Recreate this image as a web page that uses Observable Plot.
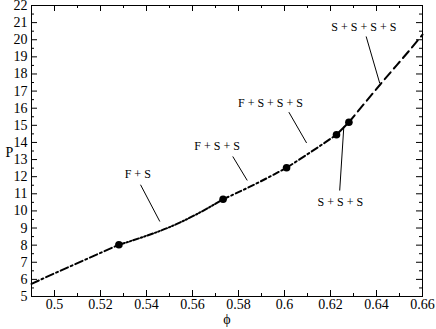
<!DOCTYPE html>
<html>
<head>
<meta charset="utf-8">
<script src="https://cdn.jsdelivr.net/npm/d3@7"></script>
<script src="https://cdn.jsdelivr.net/npm/@observablehq/plot@0.6"></script>
<style>
  html, body { margin: 0; padding: 0; background: #fff; }
  #chart svg, #chart svg text { font-family: "Liberation Serif", "Times New Roman", serif !important; }
</style>
</head>
<body>
<div id="chart"></div>
<script>
// ---- data ----
const phi = [0.49, 0.50, 0.51, 0.52, 0.528, 0.539, 0.550, 0.562, 0.5733, 0.5866, 0.6009, 0.612, 0.6226, 0.628, 0.6417, 0.6591, 0.66];
const P   = [5.74, 6.35, 6.95, 7.55, 8.02, 8.50, 9.05, 9.82, 10.68, 11.52, 12.52, 13.49, 14.45, 15.18, 17.40, 20.15, 20.30];
const segmentBounds = [0.49, 0.528, 0.5733, 0.6009, 0.6226, 0.628, 0.66];
const pointPhi = [0.528, 0.5733, 0.6009, 0.6226, 0.628];
const pointP   = [8.02, 10.68, 12.52, 14.45, 15.18];
const labels   = ["F + S", "F + S + S", "F + S + S + S", "S + S + S", "S + S + S + S"];
const labelPhi = [0.5362, 0.5707, 0.5939, 0.6243, 0.6345];
const labelP   = [12.17, 13.76, 16.28, 10.51, 20.73];
const leaderPhi1 = [0.5374, 0.5775, 0.6019, 0.6240, 0.6355];
const leaderP1   = [11.53, 13.18, 15.77, 11.19, 20.19];
const leaderPhi2 = [0.5458, 0.5838, 0.6096, 0.6258, 0.6414];
const leaderP2   = [9.38, 11.78, 13.97, 14.93, 17.46];
const xMajor = [0.5, 0.52, 0.54, 0.56, 0.58, 0.6, 0.62, 0.64, 0.66];
const xTickLabels = ["0.5", "0.52", "0.54", "0.56", "0.58", "0.6", "0.62", "0.64", "0.66"];
const xMinor = [0.49, 0.51, 0.53, 0.55, 0.57, 0.59, 0.61, 0.63, 0.65];
const yMajor = [5, 6, 7, 8, 9, 10, 11, 12, 13, 14, 15, 16, 17, 18, 19, 20, 21, 22];
const yTickLabels = yMajor.map(String);
const yMinor = [5.5, 6.5, 7.5, 8.5, 9.5, 10.5, 11.5, 12.5, 13.5, 14.5, 15.5, 16.5, 17.5, 18.5, 19.5, 20.5, 21.5];

// ---- layout / styles ----
const W = 436, H = 329, mL = 31, mR = 14, mT = 5, mB = 33;
const innerW = W - mL - mR, innerH = H - mT - mB;
const FONT = "Liberation Serif";
const dashes = ["8,3,2,3", "6,2,1.5,2,1.5,2", "6,3,2,3", "7,3,2,3", null, "9,5"];

const curve = phi.map((x, i) => ({x, y: P[i]}));
const segMarks = [];
for (let s = 0; s < segmentBounds.length - 1; s++) {
  const lo = segmentBounds[s], hi = segmentBounds[s + 1];
  const pts = curve.filter(d => d.x >= lo - 1e-9 && d.x <= hi + 1e-9);
  const opts = {x: "x", y: "y", stroke: "black", strokeWidth: 2, curve: "monotone-x"};
  if (dashes[s]) opts.strokeDasharray = dashes[s];
  segMarks.push(Plot.line(pts, opts));
}
const pts = pointPhi.map((x, i) => ({x, y: pointP[i]}));
const lbl = labels.map((t, i) => ({t, x: labelPhi[i], y: labelP[i]}));
const leaders = labels.map((t, i) => ({x1: leaderPhi1[i], y1: leaderP1[i], x2: leaderPhi2[i], y2: leaderP2[i]}));

const chart = Plot.plot({
  width: W, height: H,
  marginLeft: mL, marginRight: mR, marginTop: mT, marginBottom: mB,
  style: {fontFamily: FONT, fontSize: "14px", background: "white", color: "black"},
  x: {domain: [0.49, 0.66]},
  y: {domain: [5, 22]},
  marks: [
    Plot.frame({stroke: "black", strokeWidth: 1}),
    Plot.tickX(xMajor, {x: d => d, insetTop: innerH - 6, stroke: "black"}),
    Plot.tickX(xMinor, {x: d => d, insetTop: innerH - 3, stroke: "black"}),
    Plot.tickX(xMajor, {x: d => d, insetBottom: innerH - 6, stroke: "black"}),
    Plot.tickX(xMinor, {x: d => d, insetBottom: innerH - 3, stroke: "black"}),
    Plot.tickY(yMajor, {y: d => d, insetRight: innerW - 6, stroke: "black"}),
    Plot.tickY(yMinor, {y: d => d, insetRight: innerW - 3, stroke: "black"}),
    Plot.tickY(yMajor, {y: d => d, insetLeft: innerW - 6, stroke: "black"}),
    Plot.tickY(yMinor, {y: d => d, insetLeft: innerW - 3, stroke: "black"}),
    Plot.axisX(xMajor, {tickSize: 0, tickPadding: 3, tickFormat: (d, i) => xTickLabels[i], label: null, fontSize: 14, fontFamily: FONT}),
    Plot.axisY(yMajor, {tickSize: 0, tickPadding: 4, tickFormat: (d, i) => yTickLabels[i], label: null, fontSize: 14, fontFamily: FONT}),
    Plot.text(["P"], {frameAnchor: "left", dx: -26, dy: 1.5, fontSize: 14, fontFamily: FONT}),
    Plot.text(["\u03D5"], {frameAnchor: "bottom", dy: 27, fontSize: 14, fontFamily: FONT}),
    ...segMarks,
    Plot.link(leaders, {x1: "x1", y1: "y1", x2: "x2", y2: "y2", stroke: "black", strokeWidth: 1}),
    Plot.dot(pts, {x: "x", y: "y", r: 3.8, fill: "black", stroke: "none"}),
    Plot.text(lbl, {x: "x", y: "y", text: "t", fontSize: 12, fontFamily: FONT, textAnchor: "middle", lineAnchor: "middle"})
  ]
});
document.getElementById("chart").appendChild(chart);
</script>
</body>
</html>
